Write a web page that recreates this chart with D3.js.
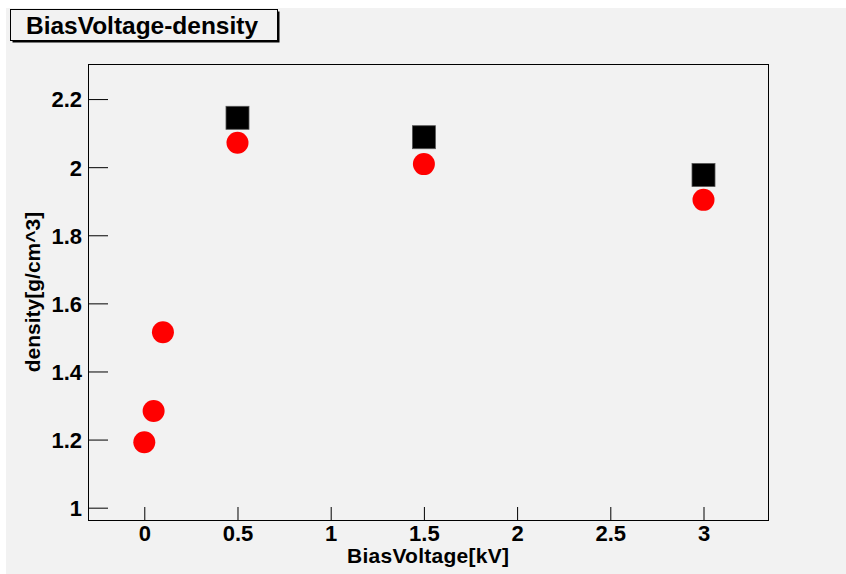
<!DOCTYPE html>
<html>
<head>
<meta charset="utf-8">
<script src="https://cdn.jsdelivr.net/npm/d3@7"></script>
<style>
  html, body { margin: 0; padding: 0; background: #ffffff; }
  svg { display: block; }
  text { font-family: "Liberation Sans", Arial, Helvetica, sans-serif; font-weight: bold; fill: #000; }
</style>
</head>
<body>
<script>
// Measurement series: bias voltage (kV) vs film density (g/cm^3)
const voltageCircle = [0, 0.05, 0.1, 0.5, 1.5, 3];
const densityCircle = [1.192, 1.284, 1.515, 2.072, 2.009, 1.904];
const voltageSquare = [0.5, 1.5, 3];
const densitySquare = [2.145, 2.088, 1.977];

// Axis ticks
const xMajorTicks = [0, 0.5, 1, 1.5, 2, 2.5, 3];
const xTickLabels = ["0", "0.5", "1", "1.5", "2", "2.5", "3"];
const yMajorTicks = [1, 1.2, 1.4, 1.6, 1.8, 2, 2.2];
const yTickLabels = ["1", "1.2", "1.4", "1.6", "1.8", "2", "2.2"];

const titleText = "BiasVoltage-density";
const xTitle = "BiasVoltage[kV]";
const yTitle = "density[g/cm^3]";

const W = 846, H = 574;
const frame = { left: 88, top: 64, right: 768, bottom: 520 };

const svg = d3.select("body").append("svg")
  .attr("width", W).attr("height", H);

// canvas background
svg.append("rect")
  .attr("x", 6).attr("y", 8).attr("width", W - 6).attr("height", H - 8)
  .attr("fill", "#f2f2f2");

const x = d3.scaleLinear().domain([-0.302, 3.346]).range([frame.left, frame.right]);
const y = d3.scaleLinear().domain([0.9638, 2.303]).range([frame.bottom, frame.top]);

// minor tick values
const xMinor = d3.range(-3, 34).map(i => i / 10).filter(v => v >= x.domain()[0] - 1e-9 && v <= x.domain()[1]);
const yMinor = d3.range(19, 47).map(i => i / 20).filter(v => v >= y.domain()[0] && v <= y.domain()[1] + 1e-3);

// x axis: ticks pointing into the frame
const gx = svg.append("g").attr("transform", `translate(0,${frame.bottom})`);
gx.call(d3.axisBottom(x).tickValues(xMinor).tickSize(-7).tickFormat(""));
gx.call(d3.axisBottom(x).tickValues(xMajorTicks).tickSize(-13).tickFormat((d, i) => xTickLabels[i]));
gx.selectAll(".domain").remove();
gx.selectAll(".tick line").attr("stroke", "#000").attr("stroke-width", 1);
gx.selectAll(".tick text")
  .attr("y", 21).attr("dy", 0)
  .style("font-size", "22px")
  .style("font-family", "'Liberation Sans', Arial, sans-serif")
  .style("font-weight", "bold")
  .attr("fill", "#000");

// y axis
const gy = svg.append("g").attr("transform", `translate(${frame.left},0)`);
gy.call(d3.axisLeft(y).tickValues(yMinor).tickSize(-10).tickFormat(""));
gy.call(d3.axisLeft(y).tickValues(yMajorTicks).tickSize(-20).tickFormat((d, i) => yTickLabels[i]));
gy.selectAll(".domain").remove();
gy.selectAll(".tick line").attr("stroke", "#000").attr("stroke-width", 1);
gy.selectAll(".tick text")
  .attr("x", -6).attr("dy", "0.36em")
  .style("font-size", "22px")
  .style("font-family", "'Liberation Sans', Arial, sans-serif")
  .style("font-weight", "bold")
  .attr("fill", "#000");

// frame
svg.append("rect")
  .attr("x", frame.left + 0.5).attr("y", frame.top + 0.5)
  .attr("width", frame.right - frame.left).attr("height", frame.bottom - frame.top)
  .attr("fill", "none").attr("stroke", "#000").attr("stroke-width", 1);

// axis titles
svg.append("text")
  .attr("x", (frame.left + frame.right) / 2).attr("y", 563)
  .attr("text-anchor", "middle")
  .attr("textLength", 162).attr("lengthAdjust", "spacing")
  .style("font-size", "21px")
  .text(xTitle);

svg.append("text")
  .attr("transform", `translate(40,${(frame.top + frame.bottom) / 2}) rotate(-90)`)
  .attr("text-anchor", "middle")
  .style("font-size", "21px")
  .text(yTitle);

// square markers
const sq = 23;
svg.append("g").selectAll("rect")
  .data(voltageSquare.map((v, i) => [v, densitySquare[i]]))
  .join("rect")
  .attr("x", d => x(d[0]) - sq / 2)
  .attr("y", d => y(d[1]) - sq / 2)
  .attr("width", sq).attr("height", sq)
  .attr("fill", "#000")
  .attr("stroke", "#555").attr("stroke-width", 0.8);

// circle markers
svg.append("g").selectAll("circle")
  .data(voltageCircle.map((v, i) => [v, densityCircle[i]]))
  .join("circle")
  .attr("cx", d => x(d[0]))
  .attr("cy", d => y(d[1]))
  .attr("r", 11)
  .attr("fill", "#ff0000");

// title box with shadow
const tb = { x: 10.5, y: 9.5, w: 267, h: 31 };
svg.append("rect")
  .attr("x", tb.x + 2).attr("y", tb.y + 2).attr("width", tb.w).attr("height", tb.h)
  .attr("fill", "#000");
svg.append("rect")
  .attr("x", tb.x).attr("y", tb.y).attr("width", tb.w).attr("height", tb.h)
  .attr("fill", "#f2f2f2").attr("stroke", "#000").attr("stroke-width", 1);
svg.append("text")
  .attr("x", 26).attr("y", 34)
  .attr("textLength", 232).attr("lengthAdjust", "spacingAndGlyphs")
  .style("font-size", "24px")
  .text(titleText);
</script>
</body>
</html>
